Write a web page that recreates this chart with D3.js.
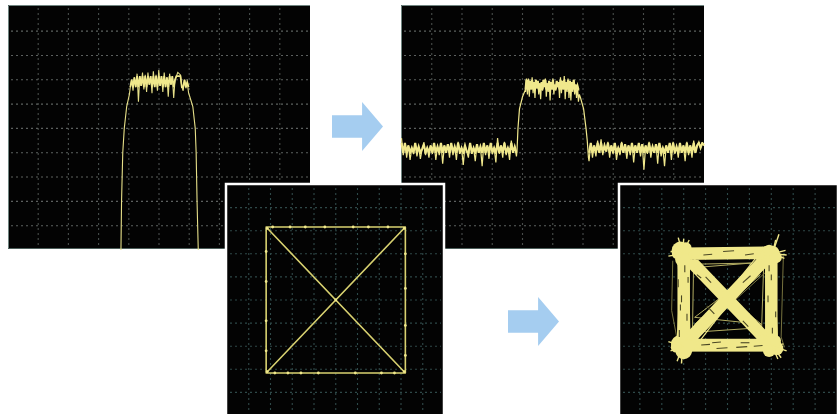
<!DOCTYPE html>
<html><head><meta charset="utf-8">
<script src="https://cdn.jsdelivr.net/npm/d3@7/dist/d3.min.js"></script>
<style>html,body{margin:0;padding:0;background:#fff}svg{display:block}</style></head>
<body><svg id="c" width="839" height="414"></svg>
<script>
// Trace A: skirts and noisy top (x and y in screen divisions)
const aLeftX=[3.74,3.76,3.8,3.85,3.93,4.02];
const aLeftY=[10,8,6,5,4.1,3.6];
const aTopStart=4.05, aTopEnd=5.98;
const aTop=[3.3,3.0,3.45,2.9,3.3,2.75,3.9,2.85,3.25,2.7,3.4,2.8,3.5,2.7,3.2,2.85,3.55,2.65,3.3,2.8,3.45,2.6,3.25,2.85,3.5,2.7,3.3,2.9,3.7,2.75,3.2,2.85,3.75,3.0,2.85,2.7,2.75,2.8,3.3,3.45,3.0,3.35,3.1,3.55];
const aRightX=[6.02,6.12,6.2,6.23,6.26,6.3];
const aRightY=[3.7,4.1,5,6,8,10];
// Trace B
const bFloorL=[5.4,6.1,5.6,6.2,5.7,6.3,5.8,6.0,5.6,6.15,5.75,6.25,5.85,5.65,6.1,5.8,6.2,5.7,6.05,5.6,6.3,5.75,6.1,5.6,6.45,5.7,6.0,5.65,6.2,5.6,6.1,5.75,6.3,5.55,6.0,5.8,6.5,5.7,5.95,6.2,5.6,6.05,5.8,6.35,5.65,6.0,5.75,6.55,5.6,6.1,5.7,6.25,5.6,6.0,5.8,6.4,5.4,6.05,5.7,6.2,5.55,6.1,5.8,6.3,5.5,6.0,5.75,6.15];
const bLeftX=[3.82,3.85,3.9,4.0,4.1];
const bLeftY=[5.9,5.0,4.2,3.7,3.4];
const bTop=[3.5,2.95,3.6,2.95,3.7,3.05,3.4,2.9,3.55,3.1,3.75,3.0,3.35,3.05,3.6,3.15,3.8,3.1,3.45,3.0,3.3,2.95,3.7,3.15,3.5,3.05,3.85,3.1,3.4,2.95,3.6,3.2,3.45,3.05,3.3,3.1,3.75,2.9,3.55,3.05,3.4,2.85,3.8,3.1,3.5,2.95,3.75,3.05,3.85,3.1,3.5,3.0,3.6,3.2,3.75,3.25,3.9,3.6];
const bRightX=[5.92,6.02,6.1,6.14,6.18];
const bRightY=[3.75,4.2,5.0,5.5,6.2];
const bFloorR=[6.35,5.6,6.2,5.7,6.15,5.5,6.0,5.45,6.1,5.7,5.95,5.55,6.2,5.7,6.05,5.6,6.3,5.8,6.1,5.55,6.0,5.65,6.25,5.7,6.1,5.6,6.4,5.7,6.0,5.6,6.15,5.65,6.7,5.7,6.05,5.55,6.2,5.75,6.0,5.65,6.45,5.6,6.15,5.8,6.55,5.7,6.0,5.6,6.3,5.55,6.05,5.75,6.2,5.6,6.0,5.7,6.35,5.55,6.1,5.7,6.2,5.5,6.0,5.7,5.55,5.8,5.6,5.7];
// Trace C: clean square and crossing (divisions from centre)
const cPathX=[-3.2,3.2,3.2,-3.2,-3.2,3.2,3.2,-3.2];
const cPathY=[3.16,3.16,-3.16,-3.16,3.16,-3.16,3.16,-3.16];
const cBeadX=[-2.9,-2.1,-1.4,-0.5,0.8,1.5,2.4,-3.2,-3.2,-3.2,-3.2,3.2,3.2,3.2,3.2,-2.8,-2.2,-1.6,-0.8,0.9,2.1,2.7,0,-3.15,3.15,-3.15,3.15];
const cBeadY=[3.16,3.16,3.16,3.16,3.16,3.16,3.16,2.1,0.8,-0.9,-2.2,2.0,0.5,-1.1,-2.4,-3.16,-3.16,-3.16,-3.16,-3.16,-3.16,-3.16,0,3.1,3.1,-3.1,-3.1];
// Trace D: smeared square and crossing
const dBandX=[-2.0,2.0,2.0,-2.0,-2.0,2.0,2.0,-2.0];
const dBandY=[2.0,2.05,-1.95,-1.95,2.0,-1.95,2.05,-1.95];
const dX=[-2.1,2.0,1.9,-2.0,-1.8,2.1,2.2,-2.2,-1.9,1.8,2.2,-1.8,-2.2,1.9,1.7,-2.0,-2.3,2.2,2.0,-2.1,-1.7,1.8,2.1,-1.9,-2.0,1.9,1.8,-2.3,-2.1,2.2,1.9,-1.7,-1.8,2.1,2.3,-1.9,-2.0,2.0,1.8,-2.1];
const dY=[2.1,2.2,-1.9,-2.0,1.9,-2.1,2.0,-1.8,1.8,2.0,-2.1,-1.8,2.2,-1.9,2.3,-2.1,2.3,1.8,-2.2,-2.2,1.7,-1.7,1.8,-2.0,1.9,2.3,-1.8,-1.9,2.0,-2.2,2.1,-2.3,2.0,1.9,-2.0,-2.1,2.3,-2.0,1.7,-1.7];
// fine lines inside the square
const dInnerX=[-1.55,1.6,-1.5,1.65,-1.6,1.5,-1.45,1.6,-1.55,1.65,1.55,-1.6,1.5,-1.5,1.6,-1.55,1.1,-1.45,1.5,-1.6,-1.55,1.65,-1.6,1.55,-1.5,1.6];
const dInnerY=[-1.3,1.55,-1.05,1.35,-1.5,1.1,-1.4,1.65,-1.15,1.45,-1.45,1.5,-1.5,1.6,-1.55,1.4,1.6,1.55,-1.2,-1.4,1.45,-1.3,1.35,-1.05,-0.75,1.5];
// dim strokes just outside the square
const dOuterX=[-2.5,-2.55,-2.2,2.55,2.45,2.6];
const dOuterY=[1.7,-0.45,-2.2,1.9,-1.6,-2.05];
// dark gaps inside the smeared bands: start and end of each streak
const gapX1=[-2.25,-2.1,-1.85,-2.2,-1.95,-1.8,-2.15,2.0,1.85,2.2,2.05,1.9,-1.1,-0.2,0.8,-0.7,0.4,1.2,-1.2,-0.5,0.6,-1.0,0.7,-0.6,0.7,-1.4];
const gapY1=[0.9,0.2,-0.6,-1.3,1.5,1.0,-0.2,1.1,0.2,-0.5,-1.2,1.5,1.95,2.1,1.95,-1.85,-2.05,-2.0,-1.95,-2.1,-1.85,1.0,-0.9,-0.6,0.75,1.1];
const gapX2=[-2.25,-2.1,-1.85,-2.2,-1.95,-1.8,-2.15,2.0,1.85,2.2,2.05,1.9,-0.7,0.3,1.2,-0.3,0.9,1.6,-0.8,0.0,1.0,-0.75,0.95,-0.95,1.05,-1.2];
const gapY2=[0.55,-0.1,-0.9,-1.6,1.2,0.75,-0.45,0.85,-0.1,-0.75,-1.45,1.25,1.98,2.13,2.0,-1.82,-2.02,-1.97,-1.92,-2.07,-1.85,0.75,-1.15,-0.25,1.05,0.95];
const dSpikeX=[-2.25,-2.5,-2.0,-2.6,-2.7,2.35,2.65,2.6,2.7,-2.55,-2.3,-2.6,-2.1,-2.7,2.55,2.7,2.45,2.3,-1.75,2.2];
const dSpikeY=[2.7,2.3,2.65,2.1,1.9,2.85,2.15,1.8,1.95,-1.95,-2.65,-2.2,-2.75,-1.8,-1.9,-2.2,-2.5,-2.55,2.6,2.6];
const dBlobX=[-2.15,-2.05,-1.9,-2.3,2.05,2.2,1.9,-2.2,-2.0,-1.8,-2.35,2.05,2.25,1.9,2.2];
const dBlobY=[2.15,1.75,2.25,2.0,2.05,1.85,2.15,-1.9,-2.2,-2.0,-2.05,-1.95,-2.1,-2.2,-1.75];
const dBlobR=[0.4,0.34,0.26,0.24,0.32,0.28,0.26,0.38,0.38,0.3,0.24,0.4,0.3,0.28,0.24];
const arrowShapeX=[0,0.59,0.59,1,0.59,0.59,0];
const arrowShapeY=[0.27,0.27,0,0.5,1,0.73,0.73];
const gridDivs=d3.range(1,10);

const svg=d3.select("#c");
const defs=svg.append("defs");
defs.append("filter").attr("id","soft").append("feGaussianBlur").attr("stdDeviation",0.45);
defs.append("filter").attr("id","soft2").append("feGaussianBlur").attr("stdDeviation",0.6);

function panel(o){
  const g=svg.append("g");
  g.append("rect").attr("x",o.x0).attr("y",o.y0).attr("width",o.x1-o.x0).attr("height",o.y1-o.y0)
    .attr("fill","#030303");
  if(o.border==="white"){
    g.append("rect").attr("x",o.x0-1).attr("y",o.y0-1).attr("width",o.x1-o.x0+2).attr("height",o.y1-o.y0+6)
     .attr("fill","none").attr("stroke","#fff").attr("stroke-width",2.5);
  } else {
    g.append("path").attr("d",`M${o.x0+.5},${o.y1}V${o.y0+.5}H${o.x1}`).attr("fill","none").attr("stroke","#6f8480").attr("stroke-width",1);
    g.append("path").attr("d",`M${o.x0},${o.y1-.5}H${o.x1}`).attr("fill","none").attr("stroke","#4d5f5b").attr("stroke-width",1);
  }
  const grid=g.append("g").attr("stroke-width",1.1).attr("stroke-dasharray","2 3").attr("filter","url(#soft2)");
  grid.selectAll("line.v").data(gridDivs).join("line").attr("class","v").attr("stroke",o.gridV)
    .attr("x1",d=>o.gx(d)).attr("x2",d=>o.gx(d)).attr("y1",o.y0+3).attr("y2",o.y1-2);
  grid.selectAll("line.h").data(gridDivs).join("line").attr("class","h").attr("stroke",o.gridH)
    .attr("y1",d=>o.gy(d)).attr("y2",d=>o.gy(d)).attr("x1",o.x0+3).attr("x2",o.x1-2);
  return g;
}
const YEL="#f0e88c";
const lineXY=(xs,ys)=>d3.line().x(d=>xs(d[0])).y(d=>ys(d[1]));
const zip=(a,b)=>a.map((v,i)=>[v,b[i]]);
const spread=(vals,a,b)=>{const s=d3.scaleLinear().domain([0,vals.length-1]).range([a,b]);return vals.map((v,i)=>[s(i),v]);};
const clampAll=(vals,lo,hi)=>vals.map(v=>Math.max(lo,Math.min(hi,v)));

// Panel A
const xA=d3.scaleLinear().domain([0,10]).range([8,310]);
const yA=d3.scaleLinear().domain([0,10]).range([6.8,250]);
const gA=panel({x0:8,x1:310,y0:5,y1:249,gx:xA,gy:yA,gridV:"#484d4b",gridH:"#5c615f"});
const aPts=[...zip(aLeftX,aLeftY),...spread(aTop,aTopStart,aTopEnd),...zip(aRightX,aRightY)];
gA.append("path").attr("d",lineXY(xA,yA)(aPts)).attr("fill","none").attr("stroke","#e6df88").attr("stroke-width",1.1).attr("filter","url(#soft)");
gA.append("path").attr("d",lineXY(xA,yA)(spread(clampAll(aTop,2.85,3.3),aTopStart,aTopEnd))).attr("fill","none").attr("stroke",YEL).attr("stroke-width",1.7).attr("filter","url(#soft)");

// Panel B
const xB=d3.scaleLinear().domain([0,10]).range([401.5,704]);
const gB=panel({x0:401,x1:704,y0:5,y1:249,gx:xB,gy:yA,gridV:"#484d4b",gridH:"#5c615f"});
const bPts=[...spread(bFloorL,0,3.8),...zip(bLeftX,bLeftY),...spread(bTop,4.1,5.88),...zip(bRightX,bRightY),...spread(bFloorR,6.2,10)];
gB.append("path").attr("d",lineXY(xB,yA)(bPts)).attr("fill","none").attr("stroke",YEL).attr("stroke-width",1.2).attr("filter","url(#soft)");
[[bFloorL,0,3.8,5.6,6.0],[bFloorR,6.2,10,5.6,6.0],[bTop,4.1,5.88,3.0,3.4]].forEach(t=>{
  gB.append("path").attr("d",lineXY(xB,yA)(spread(clampAll(t[0],t[3],t[4]),t[1],t[2]))).attr("fill","none").attr("stroke",YEL).attr("stroke-width",2.1).attr("filter","url(#soft)");
});

// Panel C
const xC=d3.scaleLinear().domain([-5,5]).range([227,444.5]);
const yC=d3.scaleLinear().domain([5,-5]).range([184.5,415.5]);
const gC=panel({x0:227,x1:443,y0:185,y1:414,gx:d=>xC(d-5),gy:d=>yC(5-d),gridV:"#2f4848",gridH:"#2f4848",border:"white"});
gC.append("path").attr("d",lineXY(xC,yC)(zip(cPathX,cPathY))).attr("fill","none").attr("stroke","#d8d170").attr("stroke-width",1.6).attr("stroke-linejoin","round").attr("filter","url(#soft)");
gC.selectAll("circle").data(zip(cBeadX,cBeadY)).join("circle").attr("cx",d=>xC(d[0])).attr("cy",d=>yC(d[1])).attr("r",1.4).attr("fill",YEL).attr("filter","url(#soft)");

// Panel D
const xD=d3.scaleLinear().domain([-5,5]).range([618,837]);
const yD=d3.scaleLinear().domain([5,-5]).range([184.5,415.5]);
const gD=panel({x0:620,x1:837,y0:185,y1:414,gx:d=>xD(d-5),gy:d=>yD(5-d),gridV:"#2f4848",gridH:"#2f4848",border:"white"});
const D1="#f0e88a";
const tangle=gD.append("g").attr("filter","url(#soft)");
tangle.append("path").attr("d",lineXY(xD,yD)(zip(dInnerX,dInnerY))).attr("fill","none").attr("stroke","#b3ad62").attr("stroke-width",1);
tangle.append("path").attr("d",lineXY(xD,yD)(zip(dOuterX,dOuterY))).attr("fill","none").attr("stroke","#77733f").attr("stroke-width",1);
tangle.append("path").attr("d",lineXY(xD,yD)(zip(dBandX,dBandY))).attr("fill","none").attr("stroke",D1).attr("stroke-width",12.5).attr("stroke-linejoin","round");
tangle.append("path").attr("d",lineXY(xD,yD)(zip(dX,dY))).attr("fill","none").attr("stroke",D1).attr("stroke-width",1.2).attr("stroke-linejoin","round");
tangle.selectAll("circle").data(dBlobX.map((v,i)=>[v,dBlobY[i],dBlobR[i]])).join("circle")
  .attr("cx",d=>xD(d[0])).attr("cy",d=>yD(d[1])).attr("r",d=>xD(d[2])-xD(0)).attr("fill",D1);
const hub=(x,y)=>[x<0?-2.05:2.05,y<0?-2.0:2.0];
tangle.selectAll("path.spike").data(zip(dSpikeX,dSpikeY)).join("path").attr("class","spike")
  .attr("d",d=>lineXY(xD,yD)([hub(d[0],d[1]),d])).attr("stroke",D1).attr("stroke-width",1.4).attr("fill","none");
tangle.selectAll("line.gap").data(gapX1.map((v,i)=>[v,gapY1[i],gapX2[i],gapY2[i]])).join("line").attr("class","gap")
  .attr("x1",d=>xD(d[0])).attr("y1",d=>yD(d[1])).attr("x2",d=>xD(d[2])).attr("y2",d=>yD(d[3]))
  .attr("stroke","#4a4724").attr("stroke-width",1.1);

// Arrows
[[332,383,102,151],[508,559,297,346]].forEach(b=>{
  const ax=d3.scaleLinear().domain([0,1]).range([b[0],b[1]]);
  const ay=d3.scaleLinear().domain([0,1]).range([b[2],b[3]]);
  svg.append("path").attr("d",lineXY(ax,ay)(zip(arrowShapeX,arrowShapeY))+"Z").attr("fill","#a5cdf0");
});
</script></body></html>
